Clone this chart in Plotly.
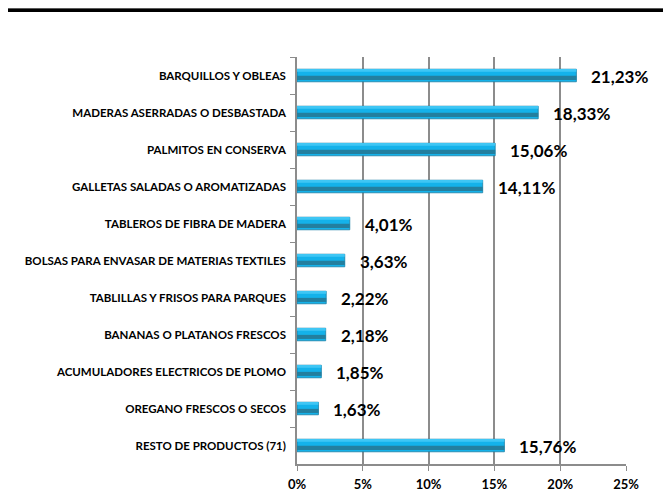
import plotly.graph_objects as go

productos = [
    "BARQUILLOS Y OBLEAS",
    "MADERAS ASERRADAS O DESBASTADA",
    "PALMITOS EN CONSERVA",
    "GALLETAS SALADAS O AROMATIZADAS",
    "TABLEROS DE FIBRA DE MADERA",
    "BOLSAS PARA ENVASAR DE MATERIAS TEXTILES",
    "TABLILLAS Y FRISOS PARA PARQUES",
    "BANANAS O PLATANOS FRESCOS",
    "ACUMULADORES ELECTRICOS DE PLOMO",
    "OREGANO FRESCOS O SECOS",
    "RESTO DE PRODUCTOS (71)",
]
participacion = [21.23, 18.33, 15.06, 14.11, 4.01, 3.63, 2.22, 2.18, 1.85, 1.63, 15.76]
etiquetas = ["21,23%", "18,33%", "15,06%", "14,11%", "4,01%", "3,63%",
             "2,22%", "2,18%", "1,85%", "1,63%", "15,76%"]

fuente = "Lato"
alto_plot = 407

fig = go.Figure()
# cuerpo claro de la barra
fig.add_trace(go.Bar(
    y=productos, x=participacion, orientation="h", width=0.34,
    marker=dict(color="#14b2ea", line=dict(color="#1c7fa3", width=0.8)),
    hoverinfo="skip", showlegend=False,
))
# franja oscura inferior (efecto cilindro)
fig.add_trace(go.Bar(
    y=productos, x=participacion, orientation="h", width=0.11, offset=0.01,
    marker=dict(color="#237f9f", line=dict(width=0)),
    hoverinfo="skip", showlegend=False,
))
# brillo superior
fig.add_trace(go.Bar(
    y=productos, x=participacion, orientation="h", width=0.05, offset=-0.15,
    marker=dict(color="#3fc6f4", line=dict(width=0)),
    hoverinfo="skip", showlegend=False,
))

for p, v, t in zip(productos, participacion, etiquetas):
    fig.add_annotation(x=v, y=p, text=t, showarrow=False, xanchor="left",
                       xshift=13, yshift=-1,
                       font=dict(family=fuente, size=17, color="black", weight="bold"))

# la página deja 8 px de margen alrededor de la figura
fig.update_layout(
    width=663, height=485,
    margin=dict(l=289, r=45, t=49, b=29, autoexpand=False),
    paper_bgcolor="white", plot_bgcolor="white",
    barmode="overlay",
    font=dict(family=fuente, color="black"),
    shapes=[
        dict(type="rect", xref="paper", yref="paper", x0=-1, x1=2,
             y0=1 + 48 / alto_plot, y1=1.3, fillcolor="#5a5a5a", line=dict(width=0), layer="above"),
        dict(type="rect", xref="paper", yref="paper", x0=-1, x1=2,
             y0=1 + 45 / alto_plot, y1=1 + 48 / alto_plot, fillcolor="black", line=dict(width=0), layer="above"),
    ],
)
fig.update_xaxes(
    range=[0, 25], dtick=5, ticksuffix="%",
    showgrid=True, gridcolor="#8c8c8c", gridwidth=1.5,
    showline=True, linecolor="#8c8c8c", linewidth=1.5,
    ticks="outside", ticklen=5, tickcolor="#8c8c8c", ticklabelstandoff=3,
    tickfont=dict(family=fuente, size=13, color="black", weight="bold"),
    zeroline=False, fixedrange=True, automargin=False,
)
fig.update_yaxes(
    autorange="reversed", categoryorder="array", categoryarray=productos,
    showline=True, linecolor="#8c8c8c", linewidth=1.5,
    ticks="outside", ticklen=5, tickcolor="#8c8c8c", tickson="boundaries",
    ticklabelstandoff=7,
    tickfont=dict(family=fuente, size=11.5, color="black", weight="bold"),
    showgrid=False, fixedrange=True, automargin=False,
)

fig.write_html("out.html")
